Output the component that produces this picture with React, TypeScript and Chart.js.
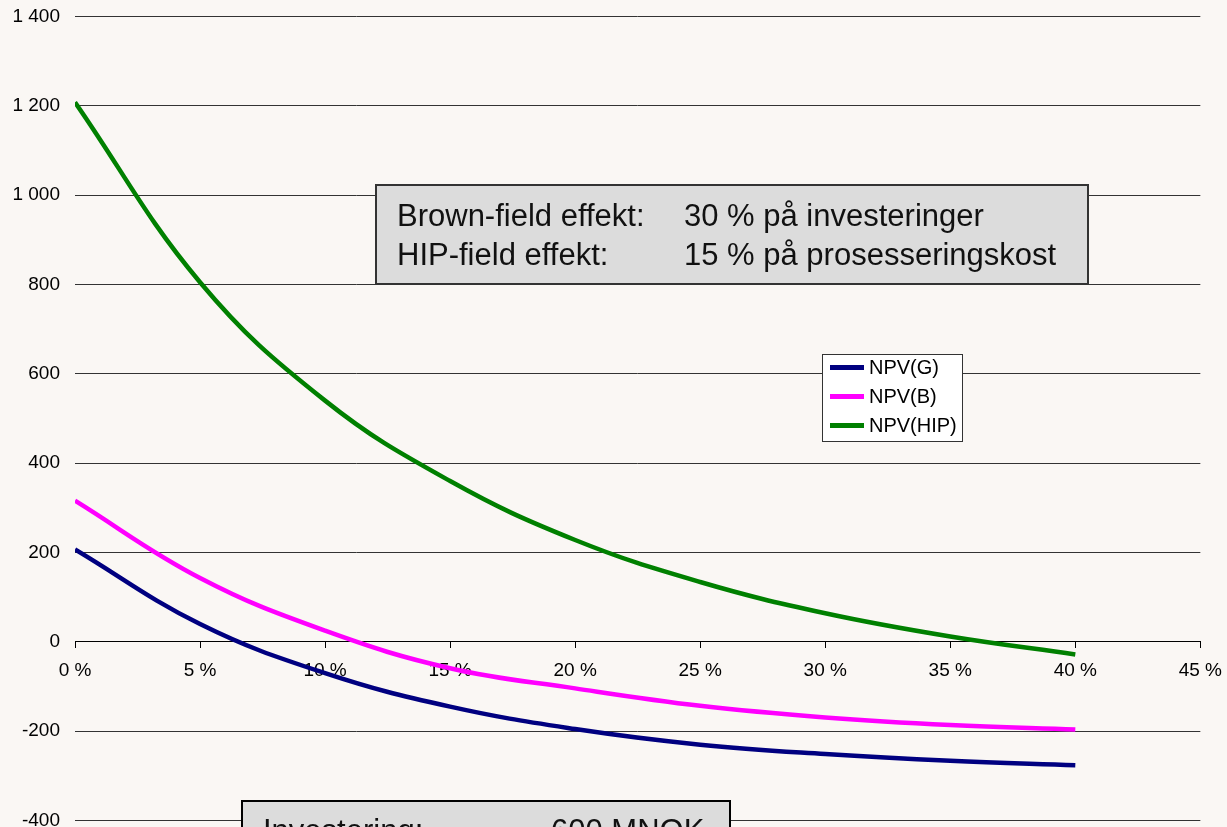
import React, { useEffect, useRef } from "react";
import { Chart, registerables } from "chart.js";

Chart.register(...registerables);

// ---- data ----
const RATES = [0, 5, 10, 15, 20, 25, 30, 35, 40];
const NPV_G = [207, 40, -70, -145, -195, -230, -251, -266, -276];
const NPV_B = [316, 143, 25, -59, -104, -143, -169, -186, -196];
const NPV_HIP = [1208, 805, 540, 360, 228, 134, 64, 12, -28];
const SERIES_NAMES = ["NPV(G)", "NPV(B)", "NPV(HIP)"];
const SERIES_COLORS = ["#000080", "#FF00FF", "#008000"];
const X_MIN = 0;
const X_MAX = 45;
const X_STEP = 5;
const Y_MIN = -400;
const Y_MAX = 1400;
const Y_STEP = 200;
const TOP_NOTE = [
  ["Brown-field effekt:", "30 % på investeringer"],
  ["HIP-field effekt:", "15 % på prosesseringskost"],
];
const BOTTOM_NOTE = [["Investering:", "600 MNOK"]];

const FONT = '"Liberation Sans", Arial, sans-serif';
const BG = "#FAF7F4";

// canvas is shifted up by this many pixels inside a clipped frame
const DY = 10;
const CANVAS_W = 1233;
const CANVAS_H = 857;

function fmtY(v: number): string {
  const s = Math.abs(v).toString();
  const grouped = s.replace(/\B(?=(\d{3})+(?!\d))/g, " ");
  return (v < 0 ? "-" : "") + grouped;
}

const overlayPlugin = {
  id: "overlay",
  beforeDraw(chart: any) {
    const ctx = chart.ctx;
    ctx.save();
    ctx.fillStyle = BG;
    ctx.fillRect(0, 0, chart.width, chart.height);
    ctx.restore();
  },
  afterDraw(chart: any) {
    const ctx = chart.ctx as CanvasRenderingContext2D;
    ctx.save();
    ctx.translate(0, DY);

    // top note box
    ctx.fillStyle = "#DCDCDC";
    ctx.fillRect(376, 185, 712, 99);
    ctx.strokeStyle = "#333";
    ctx.lineWidth = 2;
    ctx.strokeRect(376, 185, 712, 99);
    ctx.fillStyle = "#111";
    ctx.font = `31px ${FONT}`;
    ctx.textBaseline = "alphabetic";
    ctx.textAlign = "left";
    TOP_NOTE.forEach((row, i) => {
      const y = 226 + i * 39;
      ctx.fillText(row[0], 397, y);
      ctx.fillText(row[1], 684, y);
    });

    // bottom note box (cut by frame edge)
    ctx.fillStyle = "#DCDCDC";
    ctx.fillRect(242, 801, 488, 80);
    ctx.strokeStyle = "#000";
    ctx.lineWidth = 2;
    ctx.strokeRect(242, 801, 488, 80);
    ctx.fillStyle = "#111";
    BOTTOM_NOTE.forEach((row) => {
      ctx.fillText(row[0], 263, 841);
      ctx.fillText(row[1], 551, 841);
    });

    // legend
    ctx.fillStyle = "#FFFFFF";
    ctx.fillRect(822.5, 354.5, 140, 87);
    ctx.strokeStyle = "#333";
    ctx.lineWidth = 1;
    ctx.strokeRect(822.5, 354.5, 140, 87);
    ctx.font = `20px ${FONT}`;
    ctx.textBaseline = "middle";
    chart.data.datasets.forEach((ds: any, i: number) => {
      const y = 367.5 + i * 29;
      ctx.strokeStyle = ds.borderColor;
      ctx.lineWidth = 5;
      ctx.beginPath();
      ctx.moveTo(830, y);
      ctx.lineTo(864, y);
      ctx.stroke();
      ctx.fillStyle = "#000";
      ctx.fillText(ds.label, 869, y + 1);
    });
    ctx.restore();
  },
};

export default function App() {
  const ref = useRef<HTMLCanvasElement | null>(null);

  useEffect(() => {
    if (!ref.current) return;
    const series = [NPV_G, NPV_B, NPV_HIP];
    const chart = new Chart(ref.current, {
      type: "line",
      data: {
        datasets: series.map((vals, i) => ({
          label: SERIES_NAMES[i],
          data: RATES.map((r, j) => ({ x: r, y: vals[j] })),
          borderColor: SERIES_COLORS[i],
          backgroundColor: SERIES_COLORS[i],
          borderWidth: 4.5,
          pointRadius: 0,
          tension: 0.4,
          fill: false,
        })),
      },
      options: {
        responsive: false,
        animation: false,
        devicePixelRatio: 1,
        layout: { padding: { top: 7, right: 27, bottom: 0, left: 0 } },
        plugins: {
          legend: { display: false },
          tooltip: { enabled: false },
        },
        scales: {
          x: {
            type: "linear",
            position: { y: 0 } as any,
            min: X_MIN,
            max: X_MAX,
            afterFit: (s: any) => {
              s.height = 0;
            },
            ticks: {
              stepSize: X_STEP,
              maxRotation: 0,
              autoSkip: false,
              padding: 11,
              color: "#000",
              font: { family: FONT, size: 19 },
              callback: (v: any) => `${v} %`,
            },
            grid: {
              drawOnChartArea: false,
              drawTicks: true,
              tickLength: 6,
              color: "#000",
            },
            border: { display: true, color: "#000", width: 1 },
          },
          y: {
            type: "linear",
            min: Y_MIN,
            max: Y_MAX,
            afterFit: (s: any) => {
              s.width = 75;
            },
            ticks: {
              stepSize: Y_STEP,
              padding: 15,
              color: "#000",
              font: { family: FONT, size: 19 },
              callback: (v: any) => fmtY(Number(v)),
            },
            grid: { color: "#333", drawTicks: false, lineWidth: 1 },
            border: { display: false },
          },
        },
      },
      plugins: [overlayPlugin],
    });
    return () => chart.destroy();
  }, []);

  return (
    <div
      style={{
        position: "fixed",
        left: 0,
        top: 0,
        width: 1227,
        height: 827,
        overflow: "hidden",
        background: BG,
      }}
    >
      <canvas
        ref={ref}
        width={CANVAS_W}
        height={CANVAS_H}
        style={{ position: "absolute", left: 0, top: -DY, width: CANVAS_W, height: CANVAS_H, display: "block" }}
      />
    </div>
  );
}
